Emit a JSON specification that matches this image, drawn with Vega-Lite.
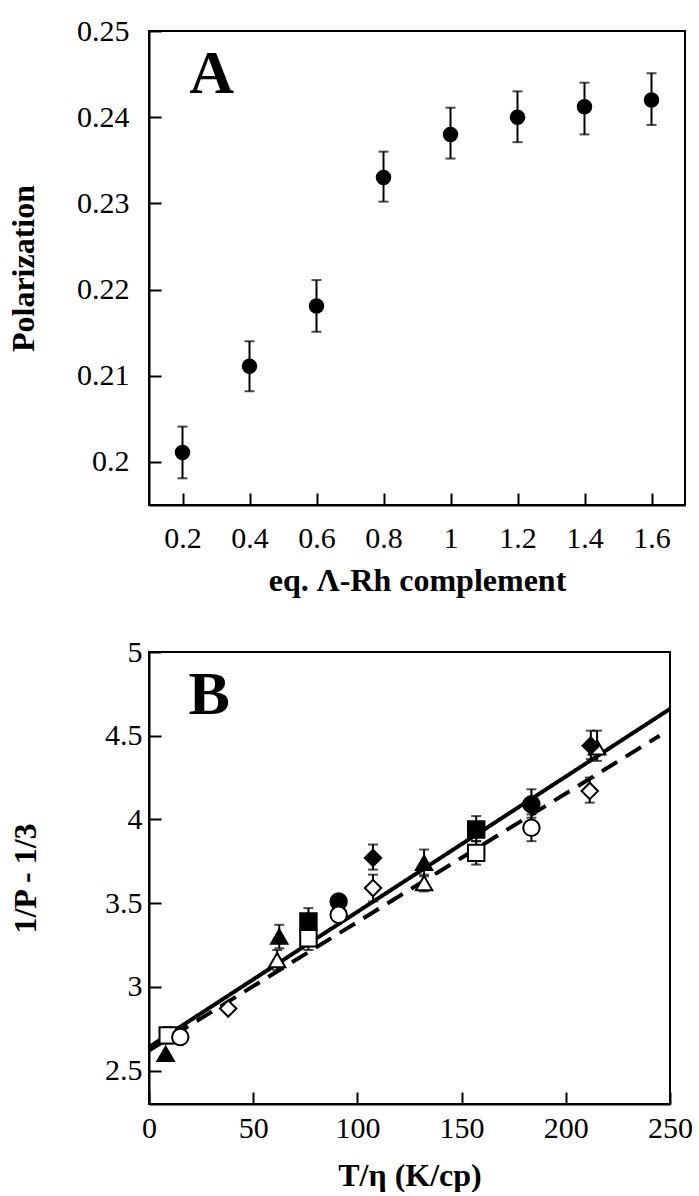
{
  "$schema": "https://vega.github.io/schema/vega-lite/v6.json",
  "background": "white",
  "padding": {"left": 6, "top": 15, "right": 5, "bottom": 0},
  "spacing": 39,
  "config": {
    "font": "Liberation Serif",
    "view": {"stroke": "black", "strokeWidth": 2},
    "axis": {
      "domainColor": "black", "domainWidth": 2,
      "tickColor": "black", "tickWidth": 2, "tickSize": -12,
      "labelFont": "Liberation Serif", "labelFontSize": 30, "labelColor": "black",
      "titleFont": "Liberation Serif", "titleFontSize": 32, "titleFontWeight": "bold", "titleColor": "black",
      "grid": false, "labelFlush": false, "labelOverlap": false, "labelBound": false
    }
  },
  "vconcat": [
    {
      "width": 536,
      "height": 474,
      "data": {"values": [
        {"x": 0.2, "p": 0.2011, "lo": 0.1981, "hi": 0.2041},
        {"x": 0.4, "p": 0.2111, "lo": 0.2082, "hi": 0.2140},
        {"x": 0.6, "p": 0.2181, "lo": 0.2151, "hi": 0.2211},
        {"x": 0.8, "p": 0.2330, "lo": 0.2302, "hi": 0.2360},
        {"x": 1.0, "p": 0.2380, "lo": 0.2352, "hi": 0.2411},
        {"x": 1.2, "p": 0.2400, "lo": 0.2371, "hi": 0.2430},
        {"x": 1.4, "p": 0.2412, "lo": 0.2380, "hi": 0.2440},
        {"x": 1.6, "p": 0.2420, "lo": 0.2391, "hi": 0.2451}
      ]},
      "layer": [
        {
          "mark": {"type": "rule", "color": "black", "strokeWidth": 2},
          "encoding": {
            "x": {"field": "x", "type": "quantitative", "title": "eq. Λ-Rh complement",
                  "scale": {"domain": [0.1, 1.7], "nice": false, "zero": false},
                  "axis": {"values": [0.2, 0.4, 0.6, 0.8, 1, 1.2, 1.4, 1.6], "format": "~g", "labelPadding": 30, "titlePadding": 12}},
            "y": {"field": "lo", "type": "quantitative", "title": "Polarization",
                  "scale": {"domain": [0.195, 0.25], "nice": false, "zero": false},
                  "axis": {"values": [0.2, 0.21, 0.22, 0.23, 0.24, 0.25], "format": "~g", "labelPadding": 32, "titlePadding": 36}},
            "y2": {"field": "hi"}
          }
        },
        {
          "mark": {"type": "tick", "orient": "horizontal", "color": "black", "size": 10, "thickness": 2},
          "encoding": {
            "x": {"field": "x", "type": "quantitative", "title": "eq. Λ-Rh complement"},
            "y": {"field": "lo", "type": "quantitative", "title": "Polarization"}
          }
        },
        {
          "mark": {"type": "tick", "orient": "horizontal", "color": "black", "size": 10, "thickness": 2},
          "encoding": {
            "x": {"field": "x", "type": "quantitative", "title": "eq. Λ-Rh complement"},
            "y": {"field": "hi", "type": "quantitative", "title": "Polarization"}
          }
        },
        {
          "mark": {"type": "point", "shape": "circle", "filled": true, "color": "black", "opacity": 1, "size": 240},
          "encoding": {
            "x": {"field": "x", "type": "quantitative", "title": "eq. Λ-Rh complement"},
            "y": {"field": "p", "type": "quantitative", "title": "Polarization"}
          }
        },
        {
          "data": {"values": [{"label": "A", "x": 0.22, "y": 0.2428}]},
          "mark": {"type": "text", "font": "Liberation Serif", "fontSize": 62, "fontWeight": "bold", "align": "left", "baseline": "alphabetic", "color": "black"},
          "encoding": {
            "x": {"field": "x", "type": "quantitative", "title": "eq. Λ-Rh complement"},
            "y": {"field": "y", "type": "quantitative", "title": "Polarization"},
            "text": {"field": "label"}
          }
        }
      ]
    },
    {
      "width": 521,
      "height": 452,
      "data": {"values": [
        {"x": 8, "y": 2.60, "sym": "triangle", "fill": "filled"},
        {"x": 9, "y": 2.71, "sym": "square", "fill": "open", "lo": 2.66, "hi": 2.76},
        {"x": 15, "y": 2.70, "sym": "circle", "fill": "open"},
        {"x": 38, "y": 2.87, "sym": "diamond", "fill": "open"},
        {"x": 62.5, "y": 3.30, "sym": "triangle", "fill": "filled", "lo": 3.23, "hi": 3.37},
        {"x": 61.5, "y": 3.16, "sym": "triangle", "fill": "open", "lo": 3.10, "hi": 3.22},
        {"x": 76.5, "y": 3.39, "sym": "square", "fill": "filled", "lo": 3.31, "hi": 3.47},
        {"x": 76.5, "y": 3.29, "sym": "square", "fill": "open", "lo": 3.22, "hi": 3.36},
        {"x": 91, "y": 3.51, "sym": "circle", "fill": "filled", "lo": 3.47, "hi": 3.55},
        {"x": 91, "y": 3.43, "sym": "circle", "fill": "open"},
        {"x": 107.5, "y": 3.77, "sym": "diamond", "fill": "filled", "lo": 3.70, "hi": 3.85},
        {"x": 107.5, "y": 3.59, "sym": "diamond", "fill": "open", "lo": 3.51, "hi": 3.67},
        {"x": 132, "y": 3.74, "sym": "triangle", "fill": "filled", "lo": 3.66, "hi": 3.82},
        {"x": 132, "y": 3.62, "sym": "triangle", "fill": "open", "lo": 3.57, "hi": 3.67},
        {"x": 157, "y": 3.94, "sym": "square", "fill": "filled", "lo": 3.87, "hi": 4.02},
        {"x": 157, "y": 3.80, "sym": "square", "fill": "open", "lo": 3.73, "hi": 3.87},
        {"x": 183.5, "y": 4.09, "sym": "circle", "fill": "filled", "lo": 4.01, "hi": 4.18},
        {"x": 183.5, "y": 3.95, "sym": "circle", "fill": "open", "lo": 3.87, "hi": 4.03},
        {"x": 215, "y": 4.43, "sym": "triangle", "fill": "open", "lo": 4.35, "hi": 4.53},
        {"x": 212, "y": 4.44, "sym": "diamond", "fill": "filled", "lo": 4.36, "hi": 4.53},
        {"x": 211.5, "y": 4.17, "sym": "diamond", "fill": "open", "lo": 4.10, "hi": 4.25}
      ]},
      "layer": [
        {
          "data": {"values": [
            {"fit": "solid", "x": 0, "y": 2.64},
            {"fit": "solid", "x": 250, "y": 4.66},
            {"fit": "dashed", "x": 0, "y": 2.62},
            {"fit": "dashed", "x": 245, "y": 4.50}
          ]},
          "mark": {"type": "line", "color": "black", "strokeWidth": 4},
          "encoding": {
            "x": {"field": "x", "type": "quantitative", "title": "T/η  (K/cp)",
                  "scale": {"domain": [0, 250], "nice": false, "zero": false},
                  "axis": {"values": [0, 50, 100, 150, 200, 250], "format": "d", "labelPadding": 21, "titlePadding": 17}},
            "y": {"field": "y", "type": "quantitative", "title": "1/P - 1/3",
                  "scale": {"domain": [2.3, 5], "nice": false, "zero": false},
                  "axis": {"values": [2.5, 3, 3.5, 4, 4.5, 5], "format": "~g", "labelPadding": 19, "titlePadding": 62}},
            "strokeDash": {"field": "fit", "type": "nominal", "legend": null,
                           "scale": {"domain": ["solid", "dashed"], "range": [[1, 0], [18, 10]]}}
          }
        },
        {
          "mark": {"type": "rule", "color": "black", "strokeWidth": 2},
          "encoding": {
            "x": {"field": "x", "type": "quantitative", "title": "T/η  (K/cp)"},
            "y": {"field": "lo", "type": "quantitative", "title": "1/P - 1/3"},
            "y2": {"field": "hi"}
          }
        },
        {
          "mark": {"type": "tick", "orient": "horizontal", "color": "black", "size": 10, "thickness": 2},
          "encoding": {
            "x": {"field": "x", "type": "quantitative", "title": "T/η  (K/cp)"},
            "y": {"field": "lo", "type": "quantitative", "title": "1/P - 1/3"}
          }
        },
        {
          "mark": {"type": "tick", "orient": "horizontal", "color": "black", "size": 10, "thickness": 2},
          "encoding": {
            "x": {"field": "x", "type": "quantitative", "title": "T/η  (K/cp)"},
            "y": {"field": "hi", "type": "quantitative", "title": "1/P - 1/3"}
          }
        },
        {
          "mark": {"type": "point", "filled": true, "stroke": "black", "strokeWidth": 2, "opacity": 1, "size": 270},
          "encoding": {
            "x": {"field": "x", "type": "quantitative", "title": "T/η  (K/cp)"},
            "y": {"field": "y", "type": "quantitative", "title": "1/P - 1/3"},
            "shape": {"field": "sym", "type": "nominal", "legend": null,
                      "scale": {"domain": ["triangle", "square", "circle", "diamond"], "range": ["triangle-up", "square", "circle", "diamond"]}},
            "fill": {"field": "fill", "type": "nominal", "legend": null,
                     "scale": {"domain": ["filled", "open"], "range": ["black", "white"]}}
          }
        },
        {
          "data": {"values": [{"label": "B", "x": 19, "y": 4.63}]},
          "mark": {"type": "text", "font": "Liberation Serif", "fontSize": 62, "fontWeight": "bold", "align": "left", "baseline": "alphabetic", "color": "black"},
          "encoding": {
            "x": {"field": "x", "type": "quantitative", "title": "T/η  (K/cp)"},
            "y": {"field": "y", "type": "quantitative", "title": "1/P - 1/3"},
            "text": {"field": "label"}
          }
        }
      ]
    }
  ]
}
